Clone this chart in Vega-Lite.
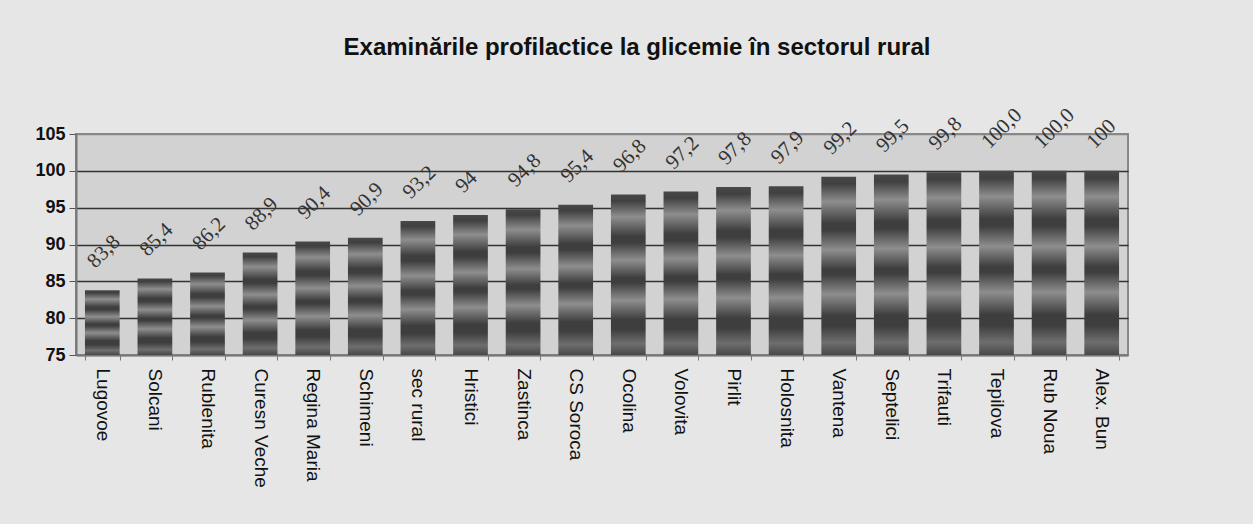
{
  "$schema": "https://vega.github.io/schema/vega-lite/v6.json",
  "autosize": "none",
  "width": 1052,
  "height": 221,
  "padding": {"left": 76, "top": 134, "right": 125, "bottom": 169},
  "background": "#e6e6e6",
  "title": {
    "text": "Examinările profilactice la glicemie  în sectorul rural",
    "font": "Liberation Sans",
    "fontSize": 24,
    "fontWeight": "bold",
    "color": "#111111",
    "anchor": "middle",
    "offset": 44,
    "dx": 35
  },
  "data": {
    "values": [
      {"loc": "Lugovoe", "v": 83.8, "label": "83,8"},
      {"loc": "Solcani", "v": 85.4, "label": "85,4"},
      {"loc": "Rublenita", "v": 86.2, "label": "86,2"},
      {"loc": "Curesn Veche", "v": 88.9, "label": "88,9"},
      {"loc": "Regina Maria", "v": 90.4, "label": "90,4"},
      {"loc": "Schimeni", "v": 90.9, "label": "90,9"},
      {"loc": "sec rural", "v": 93.2, "label": "93,2"},
      {"loc": "Hristici", "v": 94, "label": "94"},
      {"loc": "Zastinca", "v": 94.8, "label": "94,8"},
      {"loc": "CS Soroca", "v": 95.4, "label": "95,4"},
      {"loc": "Ocolina", "v": 96.8, "label": "96,8"},
      {"loc": "Volovita", "v": 97.2, "label": "97,2"},
      {"loc": "Pirlit", "v": 97.8, "label": "97,8"},
      {"loc": "Holosnita", "v": 97.9, "label": "97,9"},
      {"loc": "Vantena", "v": 99.2, "label": "99,2"},
      {"loc": "Septelici", "v": 99.5, "label": "99,5"},
      {"loc": "Trifauti", "v": 99.8, "label": "99,8"},
      {"loc": "Tepilova", "v": 100, "label": "100,0"},
      {"loc": "Rub Noua", "v": 100, "label": "100,0"},
      {"loc": "Alex. Bun", "v": 100, "label": "100"}
    ]
  },
  "encoding": {
    "x": {
      "field": "loc",
      "type": "nominal",
      "sort": null,
      "scale": {"paddingInner": 0.34, "paddingOuter": 0.17},
      "axis": {
        "title": null,
        "labelAngle": 90,
        "labelAlign": "left",
        "labelBaseline": "middle",
        "labelFont": "Liberation Sans",
        "labelFontSize": 19,
        "labelColor": "#111111",
        "labelPadding": 8,
        "tickBand": "extent",
        "tickSize": 5,
        "tickColor": "#777777",
        "domainColor": "#777777",
        "domainWidth": 2
      }
    },
    "y": {
      "field": "v",
      "type": "quantitative",
      "scale": {"domain": [75, 105], "nice": false, "zero": false},
      "axis": {
        "title": null,
        "values": [75, 80, 85, 90, 95, 100, 105],
        "labelFont": "Liberation Sans",
        "labelFontSize": 18,
        "labelFontWeight": "bold",
        "labelColor": "#111111",
        "labelPadding": 4,
        "tickSize": 7,
        "tickColor": "#555555",
        "domainColor": "#777777",
        "domainWidth": 2,
        "grid": true,
        "gridColor": {"condition": {"test": "datum.value >= 105 || datum.value <= 75", "value": "#888888"}, "value": "#333333"},
        "gridWidth": 1.3
      }
    }
  },
  "layer": [
    {
      "mark": {
        "type": "bar",
        "color": {
          "gradient": "linear",
          "x1": 0, "y1": 0, "x2": 0, "y2": 1,
          "stops": [
            {"offset": 0, "color": "#484848"},
            {"offset": 0.04, "color": "#404040"},
            {"offset": 0.14, "color": "#8e8e8e"},
            {"offset": 0.26, "color": "#3e3e3e"},
            {"offset": 0.3, "color": "#3e3e3e"},
            {"offset": 0.41, "color": "#8e8e8e"},
            {"offset": 0.52, "color": "#3e3e3e"},
            {"offset": 0.55, "color": "#3e3e3e"},
            {"offset": 0.66, "color": "#8e8e8e"},
            {"offset": 0.78, "color": "#3e3e3e"},
            {"offset": 0.84, "color": "#3e3e3e"},
            {"offset": 0.93, "color": "#6e6e6e"},
            {"offset": 1, "color": "#484848"}
          ]
        }
      },
      "encoding": {"y2": {"datum": 75}}
    },
    {
      "mark": {
        "type": "text",
        "angle": -45,
        "align": "left",
        "baseline": "bottom",
        "dx": 10,
        "dy": -16,
        "font": "Liberation Serif",
        "fontSize": 21,
        "color": "#333333"
      },
      "encoding": {"text": {"field": "label"}}
    }
  ],
  "config": {
    "view": {"fill": "#d2d2d2", "stroke": "#888888", "strokeWidth": 2}
  }
}
